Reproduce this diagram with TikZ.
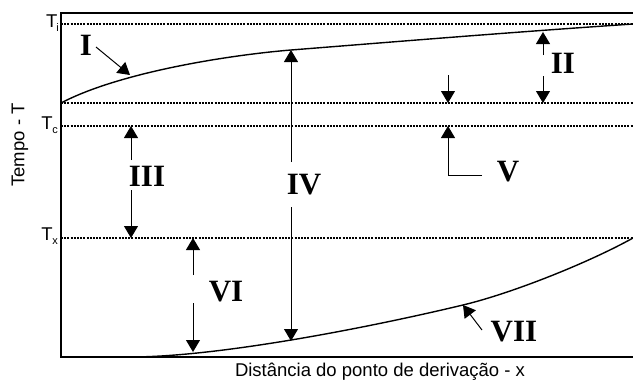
\documentclass[tikz,border=0pt]{standalone}
\usepackage{fontspec}
\setmainfont{Liberation Sans}
\newfontfamily\numfont{Liberation Serif}
\usetikzlibrary{arrows.meta}
\begin{document}
\begin{tikzpicture}[x=1pt,y=-1pt,
  frame/.style={line width=2pt},
  dotline/.style={line width=1.6pt, dash pattern=on 2pt off 1.2pt},
  curveline/.style={line width=1.4pt},
  arr/.style={line width=1pt, -{Triangle[length=12pt,width=14pt]}},
  num/.style={font=\numfont\bfseries\fontsize{31}{31}\selectfont, inner sep=0pt},
  axlab/.style={font=\fontsize{18.5}{20}\selectfont, inner sep=0pt},
  tlab/.style={font=\fontsize{18.5}{20}\selectfont, inner sep=0pt, anchor=base east},
]
\useasboundingbox (0,0) rectangle (633,383);

% frame
\coordinate (tr) at (633,13);
\coordinate (tl) at (61,13);
\coordinate (bl) at (61,357);
\coordinate (br) at (633,357);
\draw[frame] (tr) -- (tl) -- (bl) -- (br);

% dotted levels
\coordinate (tiL) at (61,24);   \coordinate (tiR) at (633,24);
\coordinate (mL) at (61,103);   \coordinate (mR) at (633,103);
\coordinate (tcL) at (61,126);  \coordinate (tcR) at (633,126);
\coordinate (txL) at (61,238);  \coordinate (txR) at (633,238);
\draw[dotline] (tiL) -- (tiR);
\draw[dotline] (mL) -- (mR);
\draw[dotline] (tcL) -- (tcR);
\draw[dotline] (txL) -- (txR);

% curve I
\coordinate (c1a) at (61,103);
\coordinate (c1b) at (291,50);
\coordinate (c1c) at (633,24);
\draw[curveline] (c1a) .. controls (120,72) and (230,55) .. (c1b)
                       .. controls (380,43) and (500,33) .. (c1c);
% curve VII
\coordinate (c7a) at (61,357);
\coordinate (c7b) at (130,357);
\coordinate (c7c) at (463,305);
\coordinate (c7d) at (633,238);
\draw[curveline] (c7a) -- (c7b) .. controls (220,357) and (373,326.6) .. (c7c)
                       .. controls (513,293) and (590,262) .. (c7d);

% axis labels
\node[tlab] (Ti) at (59,27) {T\kern-1pt{\fontsize{11}{11}\selectfont\raisebox{-4pt}{i}}};
\node[tlab] (Tc) at (58,129) {T\kern-0.5pt{\fontsize{11}{11}\selectfont\raisebox{-4pt}{c}}};
\node[tlab] (Tx) at (58,240) {T\kern-0.5pt{\fontsize{11}{11}\selectfont\raisebox{-4pt}{x}}};
\node[axlab, rotate=90] (ylab) at (20,145) {Tempo - T};
\node[axlab] (xlab) at (380,372) {Distância do ponto de derivação - x};

% I
\node[num] (nI) at (86,45) {I};
\coordinate (Itail) at (96,47);
\coordinate (Itip) at (130,75);
\draw[arr] (Itail) -- (Itip);

% II
\node[num] (nII) at (563,63) {II};
\coordinate (IIa) at (543,55);  \coordinate (IIatip) at (543,32);
\coordinate (IIb) at (543,76);  \coordinate (IIbtip) at (543,103);
\draw[arr] (IIa) -- (IIatip);
\draw[arr] (IIb) -- (IIbtip);

% III
\node[num] (nIII) at (147,176) {III};
\coordinate (IIIa) at (131,160);  \coordinate (IIIatip) at (131,126);
\coordinate (IIIb) at (131,190);  \coordinate (IIIbtip) at (131,238);
\draw[arr] (IIIa) -- (IIIatip);
\draw[arr] (IIIb) -- (IIIbtip);

% IV
\node[num] (nIV) at (304,185) {IV};
\coordinate (IVa) at (291,162);  \coordinate (IVatip) at (291,50);
\coordinate (IVb) at (291,207);  \coordinate (IVbtip) at (291,341);
\draw[arr] (IVa) -- (IVatip);
\draw[arr] (IVb) -- (IVbtip);

% V
\node[num] (nV) at (508,172) {V};
\coordinate (Va) at (448,75);  \coordinate (Vatip) at (448,103);
\coordinate (Vtail) at (482,175); \coordinate (Velbow) at (448,175); \coordinate (Vbtip) at (448,126);
\draw[arr] (Va) -- (Vatip);
\draw[arr] (Vtail) -- (Velbow) -- (Vbtip);

% VI
\node[num] (nVI) at (226,292) {VI};
\coordinate (VIa) at (193,275);  \coordinate (VIatip) at (193,238);
\coordinate (VIb) at (193,303);  \coordinate (VIbtip) at (193,352);
\draw[arr] (VIa) -- (VIatip);
\draw[arr] (VIb) -- (VIbtip);

% VII
\node[num] (nVII) at (514,332) {VII};
\coordinate (VIItail) at (482,330);
\coordinate (VIItip) at (463,305);
\draw[arr] (VIItail) -- (VIItip);
\end{tikzpicture}
\end{document}
